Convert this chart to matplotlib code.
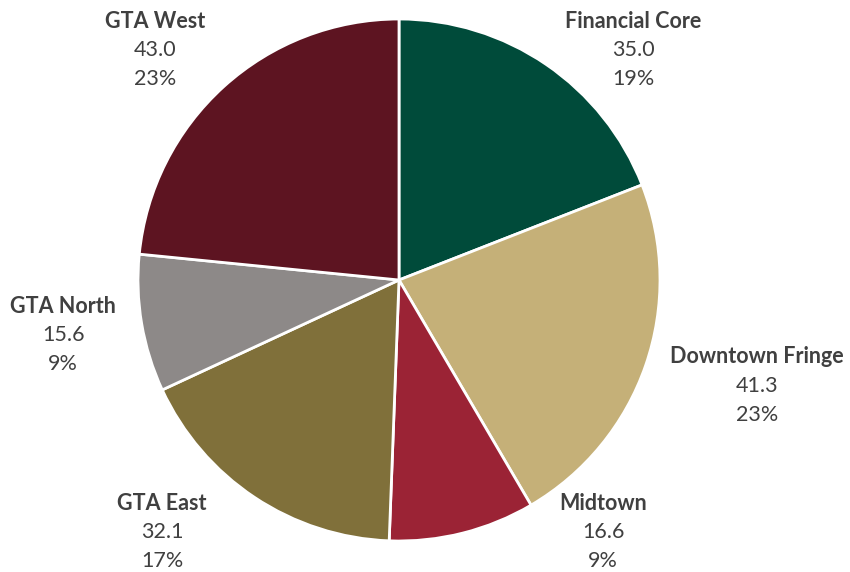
import matplotlib.pyplot as plt

names = ["Financial Core", "Downtown Fringe", "Midtown", "GTA East", "GTA North", "GTA West"]
values = [35.0, 41.3, 16.6, 32.1, 15.6, 43.0]
pcts = ["19%", "23%", "9%", "17%", "9%", "23%"]
colors = ["#004B3A", "#C5B078", "#9B2335", "#80703A", "#8D8988", "#5D1421"]

# label block centres (pie radius = 1)
label_pos = [(0.897, 0.881), (1.372, -0.406), (0.782, -0.966),
             (-0.908, -0.966), (-1.287, -0.211), (-0.935, 0.881)]

plt.rcParams['font.family'] = ['Lato', 'DejaVu Sans']
fig = plt.figure(figsize=(8.5, 5.72), dpi=100)
ax = fig.add_axes([0, 0, 1, 1])

ax.pie(values, colors=colors, startangle=90, counterclock=False, radius=1,
       wedgeprops=dict(edgecolor="white", linewidth=2))

txt = "#404040"
step = 0.111
fs = 15.5
for name, v, p, (x, y) in zip(names, values, pcts, label_pos):
    ax.text(x, y + step, name, ha="center", va="center", fontsize=fs, fontweight="bold", color=txt)
    ax.text(x, y, f"{v:.1f}", ha="center", va="center", fontsize=fs, color=txt)
    ax.text(x, y - step, p, ha="center", va="center", fontsize=fs, color=txt)

ax.set_xlim(-399 / 261, 451 / 261)
ax.set_ylim(-292 / 261, 280 / 261)
ax.set_aspect("auto")
ax.axis("off")

fig.savefig("out.png", dpi=100)
